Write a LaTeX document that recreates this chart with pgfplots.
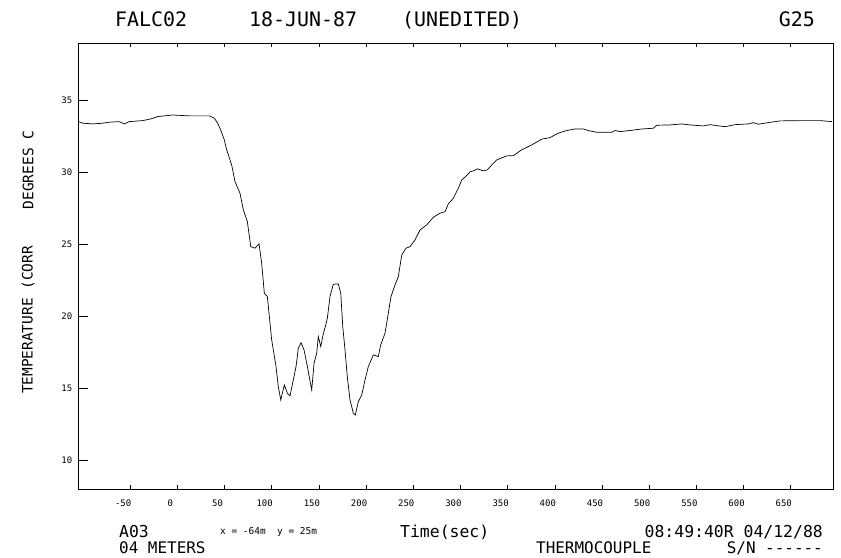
\documentclass[border=0pt]{standalone}
\usepackage{fontspec}
\setmainfont{DejaVu Sans Mono}
\usepackage{pgfplots}
\pgfplotsset{compat=1.18}
\pgfplotstableread{
t T
-104.5 33.54
-100.2 33.43
-89.6 33.38
-79 33.43
-72 33.50
-61.5 33.54
-56.2 33.38
-50.9 33.54
-36.7 33.61
-27.9 33.73
-20.8 33.89
-4.9 34.00
5.7 33.96
12.7 33.94
33.9 33.94
39.2 33.78
42.8 33.43
46.3 32.90
49.8 32.27
52.3 31.58
57.6 30.53
61.1 29.38
66.4 28.57
70 27.41
74.2 26.60
77.8 24.86
82.3 24.75
86.6 25.05
89.4 23.71
92.2 21.62
95.4 21.39
100 18.38
104.6 16.53
107 15.14
109.6 14.21
113.4 15.26
116.6 14.68
119.4 14.49
122.9 15.60
125.8 16.53
128.2 17.80
131.1 18.19
134.3 17.69
137.8 16.53
142.4 14.91
144.9 16.76
147.7 17.46
149.4 18.61
152 17.92
154.7 18.80
157.6 19.50
159 19.90
161.8 21.40
165.3 22.25
170.6 22.27
173.2 21.62
175.3 19.31
177.7 17.69
180.1 15.83
183 14.21
186.5 13.29
188.6 13.17
191.8 14.10
195.4 14.56
198.9 15.60
202.4 16.53
207.7 17.34
213 17.22
215.5 18.03
220.1 18.85
223.6 20.24
226.4 21.39
230.7 22.20
234.2 22.78
237.8 24.28
242.3 24.75
246.6 24.86
251.9 25.33
257.2 26.02
264.3 26.37
271.3 26.90
278.4 27.18
283.7 27.29
287.2 27.83
292.5 28.22
297.8 28.92
301.4 29.49
306.7 29.80
310.2 30.05
313.7 30.12
317.9 30.26
324.3 30.12
328.5 30.19
333.2 30.53
338.5 30.88
349.1 31.16
356.1 31.18
364.9 31.58
375.5 31.92
386.1 32.32
394.9 32.43
403.7 32.74
412.6 32.92
421.4 33.03
430.2 33.03
435.5 32.92
444.4 32.80
460.3 32.80
463.8 32.92
469.1 32.85
479.7 32.92
492.1 33.03
504.4 33.08
508 33.29
522.1 33.31
534.5 33.38
543.3 33.31
557.4 33.24
564.5 33.33
571.6 33.26
580.4 33.19
591 33.33
605.1 33.38
610.4 33.47
615.7 33.36
626.3 33.47
638.7 33.59
659.9 33.61
681.1 33.61
693.5 33.54
}\tempdata
\begin{document}
\begin{tikzpicture}[x=1bp,y=1bp]
\useasboundingbox (0,0) rectangle (841,558);
\begin{axis}[
  at={(78.7bp,69bp)}, anchor=south west,
  scale only axis, width=754.3bp, height=446bp,
  xmin=-104.5, xmax=694.8, ymin=8.03, ymax=39.0,
  xtick={-50,0,...,650}, ytick={10,15,...,35},
  xticklabels={-50,0,50,100,150,200,250,300,350,400,450,500,550,600,650},
  yticklabels={10,15,20,25,30,35},
  tick align=inside,
  xtick pos=both, ytick pos=left,
  major tick length=5bp,
  xtick style={black, line width=0.6bp, /pgfplots/major tick length=4bp},
  ytick style={black, line width=0.6bp, /pgfplots/major tick length=9bp},
  axis line style={black, line width=0.8bp},
  xticklabel style={font=\fontsize{9}{10}\selectfont, yshift=-7bp, xshift=-7bp},
  yticklabel style={font=\fontsize{9}{10}\selectfont, xshift=-3bp},
]
\addplot[black, line width=0.7bp] table[x=t, y=T] {\tempdata};
\end{axis}
\begin{scope}[every node/.style={inner sep=0pt}]
\node[anchor=base west, font=\fontsize{20}{22}\selectfont] at (115,531) {FALC02};
\node[anchor=base west, font=\fontsize{20}{22}\selectfont] at (249,531) {18-JUN-87};
\node[anchor=base west, font=\fontsize{20}{22}\selectfont] at (402,531) {(UNEDITED)};
\node[anchor=base east, font=\fontsize{20}{22}\selectfont] at (815,531) {G25};
\node[anchor=base west, font=\fontsize{16.5}{18}\selectfont] at (119,20) {A03};
\node[anchor=base west, font=\fontsize{9.5}{11}\selectfont] at (220,23) {x = -64m};
\node[anchor=base west, font=\fontsize{9.5}{11}\selectfont] at (277,23) {y = 25m};
\node[anchor=base west, font=\fontsize{16.5}{18}\selectfont] at (400,20) {Time(sec)};
\node[anchor=base east, font=\fontsize{16.5}{18}\selectfont] at (823,20) {08:49:40R 04/12/88};
\node[anchor=base west, font=\fontsize{16}{18}\selectfont] at (119,4) {04 METERS};
\node[anchor=base west, font=\fontsize{16}{18}\selectfont] at (536,4) {THERMOCOUPLE};
\node[anchor=base east, font=\fontsize{16}{18}\selectfont] at (823,4) {S/N -{}-{}-{}-{}-{}-};
\node[rotate=90, font=\fontsize{14.5}{16}\selectfont] at (28,238) {TEMPERATURE (CORR};
\node[rotate=90, font=\fontsize{14.5}{16}\selectfont] at (28,388) {DEGREES C};
\end{scope}
\end{tikzpicture}
\end{document}
